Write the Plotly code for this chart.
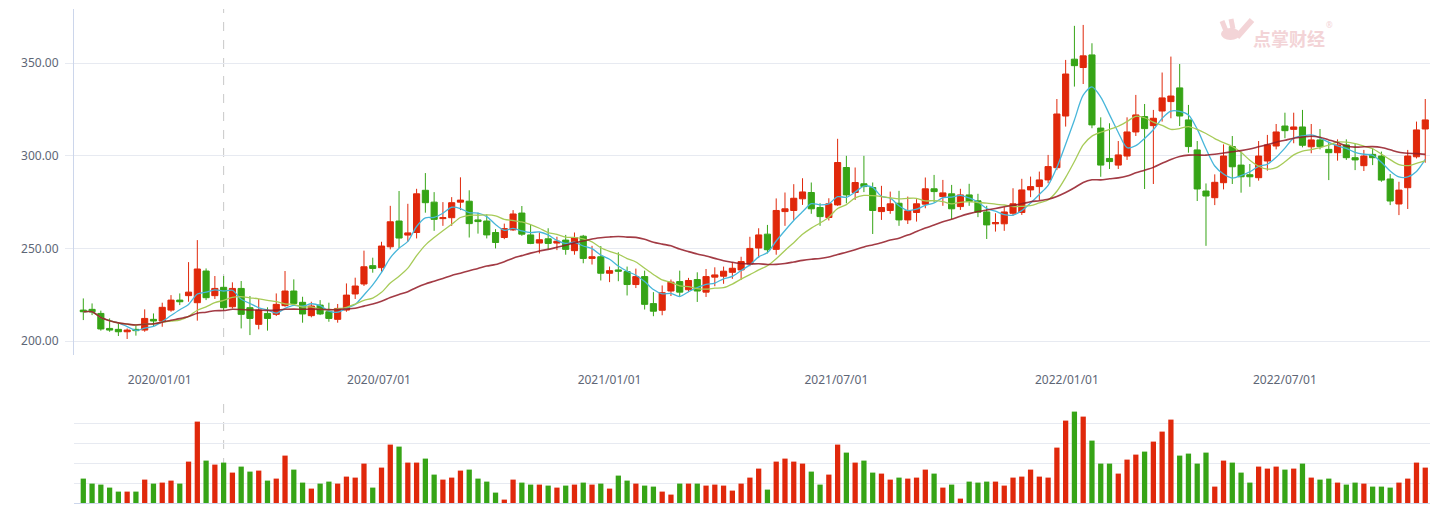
import numpy as np
import pandas as pd
import plotly.graph_objects as go

# ---------------- data ----------------
# weekly bars (Friday-dated), weeks with no trading removed
closed_weeks = ["2020-01-31", "2022-02-04", "2022-10-07"]
all_weeks = pd.date_range("2019-11-01", "2022-10-28", freq="W-FRI")
dates = all_weeks[~all_weeks.isin(pd.to_datetime(closed_weeks))]

open_ = [216.7, 217.1, 214.9, 206.8, 206.3, 205.0, 206.3, 205.9, 211.7, 210.8,
         216.7, 222.1, 224.5, 220.7, 237.8, 224.5, 229.0, 218.5, 228.4, 218.0,
         209.0, 214.9, 214.4, 219.1, 227.0, 220.9, 213.7, 219.4, 215.8, 211.7,
         216.7, 225.4, 230.8, 240.7, 239.6, 250.9, 264.8, 257.2, 258.6, 281.4,
         275.0, 266.1, 266.6, 275.0, 275.5, 265.4, 264.8, 258.6, 255.9, 260.0,
         269.1, 257.3, 252.9, 255.2, 252.9, 254.5, 248.8, 256.6, 244.6, 245.5,
         236.6, 238.4, 237.5, 230.5, 234.8, 220.2, 216.6, 227.0, 232.1, 227.7,
         233.2, 226.4, 234.5, 235.0, 237.1, 238.4, 241.6, 250.2, 257.7, 249.5,
         269.9, 270.5, 276.8, 280.2, 272.1, 266.7, 273.5, 293.7, 280.2, 284.9,
         282.9, 269.9, 270.5, 274.4, 265.4, 269.4, 273.9, 282.2, 278.0, 279.5,
         272.6, 278.9, 275.7, 269.7, 263.3, 263.3, 269.0, 269.4, 281.6, 283.4,
         287.0, 293.6, 321.5, 352.2, 347.7, 354.5, 315.0, 298.6, 295.0, 299.9,
         312.9, 321.2, 316.3, 324.2, 329.3, 336.7, 319.4, 303.2, 281.0, 277.4,
         285.5, 305.0, 295.0, 289.8, 288.2, 297.2, 305.3, 316.1, 314.3, 315.6,
         304.9, 308.6, 303.5, 301.7, 305.9, 299.0, 294.7, 300.8, 299.9, 287.5,
         274.0, 282.8, 299.5, 314.5]
high = [223.0, 220.3, 216.4, 212.2, 209.5, 206.8, 208.1, 217.1, 214.9, 220.7,
        224.8, 225.7, 242.6, 254.5, 239.2, 235.1, 235.1, 231.7, 232.4, 224.3,
        222.7, 218.2, 225.7, 237.8, 233.3, 223.9, 221.2, 222.1, 220.7, 220.0,
        231.1, 234.2, 248.8, 245.0, 253.6, 273.0, 281.0, 274.1, 282.2, 290.7,
        280.4, 275.0, 277.7, 288.4, 281.4, 269.3, 268.4, 260.4, 263.4, 270.7,
        272.9, 263.0, 258.6, 260.9, 256.3, 257.3, 258.6, 257.3, 251.4, 251.3,
        240.2, 247.9, 240.2, 239.1, 238.0, 226.4, 230.0, 233.2, 238.0, 234.1,
        237.1, 238.9, 239.8, 240.2, 242.5, 245.5, 256.3, 260.9, 262.7, 277.0,
        280.2, 284.7, 287.9, 285.6, 274.4, 277.1, 309.2, 300.0, 293.7, 300.0,
        285.6, 283.8, 280.7, 281.1, 278.0, 276.6, 288.3, 289.7, 287.0, 284.3,
        282.2, 284.9, 279.5, 273.0, 269.0, 272.3, 282.5, 287.6, 288.8, 291.5,
        300.5, 330.7, 351.8, 370.2, 370.7, 360.8, 320.8, 317.6, 308.0, 320.8,
        332.9, 328.0, 324.8, 345.0, 353.6, 349.6, 327.5, 308.0, 285.1, 290.0,
        306.2, 310.7, 302.3, 295.6, 308.0, 311.3, 317.2, 323.3, 323.3, 324.8,
        317.2, 314.5, 307.7, 308.9, 308.9, 306.8, 303.2, 304.1, 302.3, 290.2,
        286.0, 303.2, 318.5, 330.7]
low = [211.3, 214.0, 205.6, 205.0, 202.7, 201.1, 202.9, 205.0, 207.7, 207.7,
       215.8, 219.4, 221.2, 211.0, 222.1, 222.7, 216.7, 217.6, 206.8, 203.2,
       206.3, 205.6, 213.5, 218.5, 219.4, 209.9, 212.8, 214.0, 210.4, 209.9,
       215.8, 222.7, 229.7, 236.9, 237.4, 249.5, 250.2, 253.6, 255.4, 269.3,
       259.5, 262.2, 262.2, 270.7, 255.9, 258.0, 255.4, 250.0, 255.0, 259.5,
       256.8, 252.3, 247.3, 249.6, 249.1, 246.6, 246.6, 242.0, 241.3, 232.7,
       231.8, 232.3, 224.6, 228.6, 217.0, 213.4, 213.9, 224.3, 223.8, 226.4,
       221.1, 223.8, 229.6, 230.9, 233.6, 233.0, 240.4, 244.8, 247.3, 246.6,
       262.2, 265.4, 273.5, 268.7, 262.2, 265.1, 273.0, 274.4, 276.2, 280.4,
       257.8, 265.4, 268.7, 262.2, 263.2, 264.5, 271.7, 274.8, 273.0, 265.8,
       270.8, 273.0, 266.9, 255.1, 259.1, 259.5, 267.6, 268.1, 277.7, 276.2,
       285.2, 292.3, 315.8, 337.4, 338.8, 314.9, 288.7, 292.9, 292.9, 297.8,
       310.7, 282.1, 284.8, 318.5, 320.3, 316.1, 301.7, 275.6, 251.4, 273.4,
       281.9, 284.8, 280.1, 283.3, 286.6, 292.0, 303.5, 309.5, 306.8, 304.6,
       301.4, 303.5, 286.9, 297.4, 297.8, 292.3, 291.8, 295.0, 286.0, 273.4,
       268.0, 271.3, 298.6, 296.3]
close = [215.8, 215.8, 206.5, 205.9, 205.0, 205.9, 205.6, 212.2, 210.8, 218.2,
         222.1, 221.2, 226.4, 238.9, 223.4, 228.4, 218.0, 228.4, 214.4, 212.2,
         216.7, 212.2, 219.8, 227.0, 220.3, 214.6, 218.9, 214.6, 212.2, 217.6,
         224.8, 229.7, 240.1, 239.2, 251.3, 264.4, 255.6, 258.4, 279.5, 274.7,
         265.7, 266.6, 274.7, 276.1, 263.4, 264.5, 257.3, 253.2, 260.7, 268.6,
         257.7, 252.7, 254.7, 252.7, 253.9, 249.5, 255.9, 244.6, 245.5, 236.6,
         238.0, 237.7, 230.5, 234.8, 219.8, 216.1, 226.1, 231.8, 226.4, 232.7,
         227.0, 234.8, 235.7, 237.7, 239.3, 242.9, 250.0, 257.3, 249.3, 270.5,
         271.4, 277.1, 280.5, 271.4, 267.2, 274.1, 296.4, 278.9, 285.6, 283.4,
         270.5, 272.1, 274.1, 265.4, 270.3, 274.1, 282.2, 280.7, 280.0, 271.4,
         278.9, 275.3, 269.6, 262.7, 264.0, 269.7, 274.1, 281.6, 283.4, 287.0,
         294.2, 322.6, 344.2, 348.7, 354.0, 316.7, 295.0, 296.9, 300.5, 312.9,
         322.1, 314.7, 320.3, 331.3, 332.3, 321.5, 305.0, 282.1, 278.3, 285.7,
         299.9, 294.1, 288.7, 288.7, 299.9, 305.9, 312.9, 313.6, 315.6, 305.7,
         308.6, 305.0, 301.7, 305.9, 299.0, 297.8, 299.9, 299.0, 286.9, 275.6,
         281.5, 299.9, 314.0, 319.4]
volume = [122, 97, 92, 77, 57, 57, 57, 117, 97, 102,
          112, 97, 207, 407, 212, 192, 202, 152, 182, 157,
          162, 112, 122, 237, 167, 102, 72, 97, 107, 97,
          132, 127, 197, 77, 177, 292, 282, 202, 202, 222,
          142, 117, 127, 162, 167, 122, 107, 52, 17, 117,
          102, 92, 92, 87, 77, 87, 92, 102, 92, 97,
          72, 137, 112, 97, 87, 82, 57, 42, 97, 97,
          97, 87, 92, 87, 62, 97, 127, 172, 67, 207,
          222, 207, 197, 157, 92, 142, 292, 252, 202, 212,
          152, 147, 117, 127, 122, 127, 167, 147, 77, 92,
          22, 107, 102, 107, 107, 87, 127, 132, 167, 132,
          127, 277, 412, 457, 432, 312, 197, 197, 147, 217,
          242, 257, 307, 357, 417, 237, 247, 197, 252, 82,
          212, 202, 152, 102, 182, 172, 182, 167, 172, 197,
          127, 117, 122, 102, 92, 102, 97, 82, 82, 77,
          102, 122, 202, 177]

ma_windows = [5, 10, 30]
tick_dates = ["2020/01/01", "2020/07/01", "2021/01/01",
              "2021/07/01", "2022/01/01", "2022/07/01"]
cursor_date = "2020-02-28"
y_ticks = [200, 250, 300, 350]

# ---------------- styling ----------------
RED = "#E0280B"
GREEN = "#36A416"
MA_COLORS = {5: "#47B6DA", 10: "#A7CB58", 30: "#931A25"}
GRID = "#E7EAF1"
AXIS = "#CCD6EB"
LABEL = "#5E6676"
WM = "#F3D4D7"
FONT = "Noto Sans"

n = len(close)
idx = np.arange(n)
date_str = [d.strftime("%Y/%m/%d") for d in dates]
cs = pd.Series(close)

# tick positions: interpolate calendar dates onto bar index
ts = dates.values.astype("datetime64[D]").astype(float)
tick_pos = [float(np.interp(np.datetime64(pd.Timestamp(t).date()).astype(float), ts, idx))
            for t in tick_dates]
cursor_pos = float(np.interp(np.datetime64(pd.Timestamp(cursor_date).date()).astype(float), ts, idx))

fig = go.Figure()

fig.add_trace(go.Candlestick(
    x=idx, open=open_, high=high, low=low, close=close,
    increasing=dict(line=dict(color=RED, width=1), fillcolor=RED),
    decreasing=dict(line=dict(color=GREEN, width=1), fillcolor=GREEN),
    whiskerwidth=0, text=date_str, hoverinfo="text+x",
    xaxis="x", yaxis="y", showlegend=False, name="K"))

for w in ma_windows:
    ma = cs.rolling(w, min_periods=1).mean()
    fig.add_trace(go.Scatter(
        x=idx, y=ma, mode="lines",
        line=dict(color=MA_COLORS[w], width=1.6 if w == 30 else 1.3, shape="spline", smoothing=0.8),
        opacity=0.85 if w == 30 else 1.0,
        xaxis="x", yaxis="y", showlegend=False, name=f"MA{w}", hoverinfo="skip"))

vol_colors = [RED if c >= o else GREEN for o, c in zip(open_, close)]
fig.add_trace(go.Bar(
    x=idx, y=volume, marker=dict(color=vol_colors, line=dict(width=0)),
    width=0.6, xaxis="x2", yaxis="y2", showlegend=False, name="VOL"))

x_range = [-1.06, n - 1 + 0.54]
PLOT_L, PLOT_T, PLOT_W, PLOT_H = 74, 9, 1356.0, 494.0
main_bottom = (503 - 355) / PLOT_H
vol_top = 100 / PLOT_H


def px(x, y):
    return (x - PLOT_L) / PLOT_W, 1 - (y - PLOT_T) / PLOT_H


fig.update_layout(
    width=1444, height=505,
    margin=dict(l=PLOT_L, r=14, t=PLOT_T, b=2),
    paper_bgcolor="white", plot_bgcolor="white",
    font=dict(family=FONT, size=12, color=LABEL),
    boxgap=0.3, boxgroupgap=0,
    bargap=0.4,
    xaxis=dict(domain=[0, 1], range=x_range, showgrid=False, zeroline=False,
               showline=False, tickmode="array", tickvals=tick_pos, ticktext=tick_dates,
               ticks="outside", ticklen=14, tickcolor="rgba(0,0,0,0)",
               tickfont=dict(size=12, color=LABEL), rangeslider=dict(visible=False),
               anchor="y"),
    yaxis=dict(domain=[main_bottom, 1], range=[192.45, 379.3], tickmode="array",
               tickvals=y_ticks, ticktext=[f"{v:.2f}" for v in y_ticks],
               showgrid=True, gridcolor=GRID, gridwidth=1, zeroline=False,
               showline=True, linecolor=AXIS, linewidth=1,
               ticks="outside", ticklen=8, tickcolor=GRID,
               ticklabelstandoff=4,
               tickfont=dict(size=12, color=LABEL), anchor="x"),
    xaxis2=dict(domain=[0, 1], range=x_range, matches="x", showgrid=False, zeroline=False,
                showline=True, linecolor=AXIS, linewidth=1, showticklabels=False,
                anchor="y2"),
    yaxis2=dict(domain=[0, vol_top], range=[0, 500], dtick=100, showgrid=True,
                gridcolor=GRID, zeroline=False, showline=False, showticklabels=False,
                anchor="x2"),
    hovermode="closest",
)

# dashed crosshair
for yr in ["y domain", "y2 domain"]:
    fig.add_shape(type="line", xref="x", yref=yr, x0=cursor_pos, x1=cursor_pos, y0=0, y1=1,
                  line=dict(color="#C8C8C8", width=1, dash="dash"), layer="below")

# watermark text
wx, wy = px(1289, 38)
fig.add_annotation(xref="paper", yref="paper", x=wx, y=wy, xanchor="center", yanchor="middle",
                   text="<b>点掌财经</b>", showarrow=False,
                   font=dict(family="Noto Sans CJK SC", size=18, color=WM))
rx, ry = px(1329, 24)
fig.add_annotation(xref="paper", yref="paper", x=rx, y=ry, xanchor="center", yanchor="middle",
                   text="®", showarrow=False,
                   font=dict(family="Noto Sans", size=8, color=WM))

# watermark logo (stylised hand)
for (x0, y0, x1, y1, wdt) in [(1222, 21, 1226, 31, 5), (1231, 19, 1233, 29, 5),
                              (1252, 20, 1237, 37, 6)]:
    a0, b0 = px(x0, y0)
    a1, b1 = px(x1, y1)
    fig.add_shape(type="line", xref="paper", yref="paper", x0=a0, y0=b0, x1=a1, y1=b1,
                  line=dict(color=WM, width=wdt), layer="below")
e0x, e0y = px(1221, 28)
e1x, e1y = px(1240, 40)
fig.add_shape(type="circle", xref="paper", yref="paper", x0=e0x, y0=e0y, x1=e1x, y1=e1y,
              fillcolor=WM, line=dict(width=0), layer="below")

fig.write_html("out.html")
